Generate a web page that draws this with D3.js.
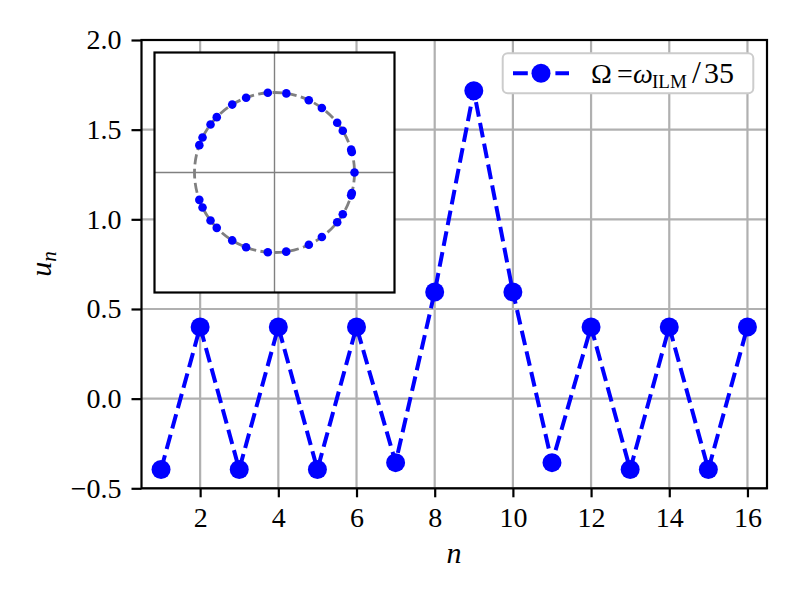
<!DOCTYPE html>
<html><head><meta charset="utf-8">
<script src="https://cdn.jsdelivr.net/npm/d3@7"></script>
<style>
body{margin:0;background:#fff}
text{font-family:"Liberation Serif","Times New Roman",serif;fill:#000}
</style>
</head><body>
<svg id="c" width="797" height="598"></svg>
<script>
// ---- data ----
const nValues = [1,2,3,4,5,6,7,8,9,10,11,12,13,14,15,16];
const uValues = [-0.395,0.40,-0.395,0.40,-0.395,0.40,-0.357,0.595,1.717,0.595,-0.357,0.40,-0.395,0.40,-0.395,0.40];
const xTickValues = [2,4,6,8,10,12,14,16];
const yTickValues = [-0.5,0.0,0.5,1.0,1.5,2.0];
// inset: phase angles (degrees) of the points on the unit circle
const insetAngles = [94.8,81.5,64.6,53.7,38.4,31.4,16.6,14.9,0,-14.9,-16.6,-31.4,-38.4,-53.7,-64.6,-81.6,-94.8,-110.8,-121.9,-136.2,-143.1,-154.1,-160.0,160.0,154.1,143.1,136.2,121.9,110.8];
const insetRadius = 1.0;

// ---- layout ----
const svg = d3.select('#c');
const L = 141.5, R = 767, T = 40, B = 488.3;
const x = d3.scaleLinear().domain([0.5,16.5]).range([L,R]);
const y = d3.scaleLinear().domain([-0.5,2.0]).range([B,T]);
const gridColor = '#b0b0b0';

// grid
const grid = svg.append('g');
grid.selectAll('line.gx').data(xTickValues).join('line')
  .attr('x1',d=>x(d)).attr('x2',d=>x(d)).attr('y1',T).attr('y2',B)
  .attr('stroke',gridColor).attr('stroke-width',2.2);
grid.selectAll('line.gy').data(yTickValues).join('line')
  .attr('y1',d=>y(d)).attr('y2',d=>y(d)).attr('x1',L).attr('x2',R)
  .attr('stroke',gridColor).attr('stroke-width',2.2);

// axes
const fmt = d3.format('.1f');
const xAxis = svg.append('g').attr('transform',`translate(0,${B})`)
  .call(d3.axisBottom(x).tickValues(xTickValues).tickSize(9).tickPadding(10).tickFormat(d3.format('d')));
const yAxis = svg.append('g').attr('transform',`translate(${L},0)`)
  .call(d3.axisLeft(y).tickValues(yTickValues).tickSize(10).tickPadding(10).tickFormat(fmt));
[xAxis,yAxis].forEach(a=>{
  a.select('.domain').remove();
  a.selectAll('.tick line').attr('stroke','#000').attr('stroke-width',2.2);
  a.selectAll('.tick text').style('font-size','28px').style('font-family','"Liberation Serif",serif').attr('fill','#000');
});

// data line
const line = d3.line().x(d=>x(d[0])).y(d=>y(d[1]));
const pts = nValues.map((n,i)=>[n,uValues[i]]);
svg.append('path').datum(pts).attr('d',line)
  .attr('fill','none').attr('stroke','#0000ff').attr('stroke-width',4)
  .attr('stroke-dasharray','14.8,6.4');
svg.append('g').selectAll('circle').data(pts).join('circle')
  .attr('cx',d=>x(d[0])).attr('cy',d=>y(d[1])).attr('r',9.5).attr('fill','#0000ff');

// spines
svg.append('rect').attr('x',L).attr('y',T).attr('width',R-L).attr('height',B-T)
  .attr('fill','none').attr('stroke','#000').attr('stroke-width',2.2);

// axis labels
svg.append('text').attr('x',454).attr('y',563).attr('text-anchor','middle')
  .style('font-size','30px').attr('font-style','italic').text('n');
const yl = svg.append('text').attr('transform','translate(51,264) rotate(-90)')
  .attr('text-anchor','middle').style('font-size','30px').attr('font-style','italic');
yl.append('tspan').text('u');
yl.append('tspan').style('font-size','21px').attr('dy',5).text('n');

// ---- inset ----
const IL = 154.5, IT = 52.5, IS = 240;
const ix = d3.scaleLinear().domain([-1.5,1.5]).range([IL,IL+IS]);
const iy = d3.scaleLinear().domain([-1.5,1.5]).range([IT+IS,IT]);
const inset = svg.append('g');
inset.append('rect').attr('x',IL).attr('y',IT).attr('width',IS).attr('height',IS).attr('fill','#fff');
inset.append('line').attr('x1',IL).attr('x2',IL+IS).attr('y1',iy(0)).attr('y2',iy(0))
  .attr('stroke','#808080').attr('stroke-width',1.4);
inset.append('line').attr('x1',ix(0)).attr('x2',ix(0)).attr('y1',IT).attr('y2',IT+IS)
  .attr('stroke','#808080').attr('stroke-width',1.4);
inset.append('circle').attr('cx',ix(0)).attr('cy',iy(0)).attr('r',ix(insetRadius)-ix(0))
  .attr('fill','none').attr('stroke','#808080').attr('stroke-width',2.8)
  .attr('stroke-dasharray','10,4.4');
inset.selectAll('circle.p').data(insetAngles).join('circle').attr('class','p')
  .attr('cx',a=>ix(insetRadius*Math.cos(a*Math.PI/180)))
  .attr('cy',a=>iy(insetRadius*Math.sin(a*Math.PI/180)))
  .attr('r',4.3).attr('fill','#0000ff');
inset.append('rect').attr('x',IL).attr('y',IT).attr('width',IS).attr('height',IS)
  .attr('fill','none').attr('stroke','#000').attr('stroke-width',2.2);

// ---- legend ----
const lg = svg.append('g');
lg.append('rect').attr('x',502.7).attr('y',53.3).attr('width',250.6).attr('height',40).attr('rx',5)
  .attr('fill','#fff').attr('stroke','#cccccc').attr('stroke-width',2);
lg.append('line').attr('x1',513).attr('x2',569).attr('y1',73.3).attr('y2',73.3)
  .attr('stroke','#0000ff').attr('stroke-width',4).attr('stroke-dasharray','14.8,6.4');
lg.append('circle').attr('cx',541).attr('cy',73.3).attr('r',9.5).attr('fill','#0000ff');
const lt = lg.append('text').attr('y',82.5).style('font-size','28px');
lt.append('tspan').attr('x',591).text('Ω');
lt.append('tspan').attr('x',617).text('=');
lt.append('tspan').attr('x',633).attr('font-style','italic').text('ω');
lt.append('tspan').attr('x',652).style('font-size','19px').attr('dy',5).text('ILM');
lt.append('tspan').attr('x',692).attr('dy',-5).style('font-size','32px').text('/');
lt.append('tspan').attr('x',704).style('font-size','30px').text('35');
</script>
</body></html>
